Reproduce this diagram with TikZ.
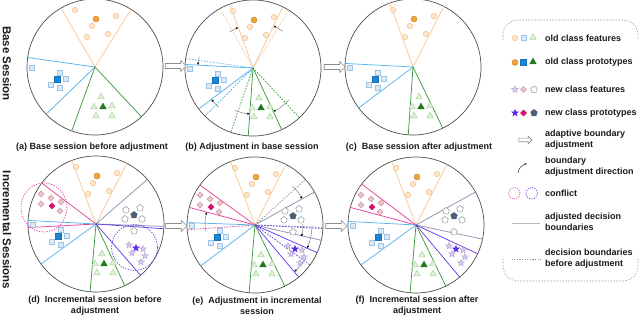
\documentclass[tikz,border=0pt]{standalone}
\usepackage{fontspec}
\setmainfont{Liberation Sans}
\usetikzlibrary{shapes.geometric,shapes.arrows,arrows.meta}
\definecolor{rimc}{HTML}{4D4D4D}
\definecolor{orLine}{HTML}{F7C79B}
\definecolor{orL}{HTML}{FDE6CC}
\definecolor{orB}{HTML}{F3BE85}
\definecolor{orP}{HTML}{F2A23A}
\definecolor{blLine}{HTML}{56B4E9}
\definecolor{blL}{HTML}{DCEAF7}
\definecolor{blB}{HTML}{9DC3E6}
\definecolor{blP}{HTML}{1C86D6}
\definecolor{grLine}{HTML}{3E9B3E}
\definecolor{grL}{HTML}{E0F1D8}
\definecolor{grB}{HTML}{A3D497}
\definecolor{grP}{HTML}{1E7B1E}
\definecolor{pkLine}{HTML}{E6439A}
\definecolor{pkL}{HTML}{E9C6CA}
\definecolor{pkB}{HTML}{D29AA5}
\definecolor{pkP}{HTML}{D6136F}
\definecolor{slLine}{HTML}{8795AD}
\definecolor{slB}{HTML}{8C8C8C}
\definecolor{slP}{HTML}{4E5E75}
\definecolor{vtLine}{HTML}{6A3DE8}
\definecolor{vtL}{HTML}{D9CCEB}
\definecolor{vtB}{HTML}{B7A4D9}
\definecolor{vtP}{HTML}{5B2BE6}
\definecolor{arcc}{HTML}{7F7F7F}
\definecolor{arrc}{HTML}{8C8C8C}
\definecolor{legc}{HTML}{9A9A9A}
\definecolor{txtc}{HTML}{1A1A1A}
\tikzset{
 rim/.style={circle, draw=rimc, line width=0.7pt, minimum size=136pt, inner sep=0pt, outer sep=0pt},
 bnd/.style={line width=0.75pt},
 old/.style={dash pattern=on 1.6pt off 1.4pt},
 oline/.style={bnd, draw=orLine},
 bline/.style={bnd, draw=blLine},
 gline/.style={bnd, draw=grLine},
 pline/.style={bnd, draw=pkLine},
 sline/.style={bnd, draw=slLine},
 vline/.style={bnd, draw=vtLine},
 adjarc/.style={draw=arcc, line width=0.5pt, -{Latex[length=2.4pt,width=2.4pt,color=black]}},
 mk/.style={inner sep=0pt, outer sep=0pt, line width=0.45pt},
 ofeat/.style={mk, circle, draw=orB, fill=orL, minimum size=5.6pt},
 oproto/.style={mk, circle, draw=orP!85!black, fill=orP, minimum size=6pt},
 bfeat/.style={mk, rectangle, draw=blB, fill=blL, minimum size=5.4pt},
 bproto/.style={mk, rectangle, draw=blP!85!black, fill=blP, minimum size=5.8pt},
 gfeat/.style={mk, regular polygon, regular polygon sides=3, draw=grB, fill=grL, minimum size=7.6pt},
 gproto/.style={mk, regular polygon, regular polygon sides=3, draw=grP, fill=grP, minimum size=7.6pt},
 pfeat/.style={mk, diamond, draw=pkB, fill=pkL, minimum size=6pt},
 pproto/.style={mk, diamond, draw=pkP, fill=pkP, minimum size=6pt},
 sfeat/.style={mk, regular polygon, regular polygon sides=5, draw=slB, fill=white, minimum size=7pt},
 sproto/.style={mk, regular polygon, regular polygon sides=5, draw=slP, fill=slP, minimum size=7pt},
 vfeat/.style={mk, star, star points=5, star point ratio=2.3, draw=vtB, fill=vtL, minimum size=7pt},
 vproto/.style={mk, star, star points=5, star point ratio=2.3, draw=vtP, fill=vtP, minimum size=7pt},
 harrow/.style={single arrow, draw=arrc, fill=white, line width=0.6pt, minimum height=21pt, minimum width=10pt, inner sep=2.2pt, single arrow head extend=3pt, single arrow head indent=0pt},
 harrowsmall/.style={harrow, minimum height=13pt, minimum width=7pt, inner sep=1.5pt, single arrow head extend=2pt},
 captxt/.style={font=\fontsize{9}{11}\selectfont\bfseries, text=txtc, align=center, inner sep=0pt},
 legtxt/.style={font=\fontsize{9}{10.7}\selectfont\bfseries, text=txtc, align=left, anchor=west, inner sep=0pt},
 sidetxt/.style={font=\fontsize{11.5}{13}\selectfont\bfseries, text=txtc, rotate=-90, inner sep=0pt},
 legbox/.style={draw=legc, line width=0.6pt, dash pattern=on 1.5pt off 1.5pt, rounded corners=15pt},
}
\newcommand{\bd}[3]{\draw[#1] (#2.center) -- (#2.#3);}
\newcommand{\adj}[3]{\draw[adjarc] (#1:#2) arc[start angle=#1, end angle=#3, radius=#2];}
\newcommand{\OrPts}{%
 \foreach \p [count=\i] in {(-20,57),(21,51),(-3,41),(-8,30),(13,33)} {\node[ofeat] (of\i) at \p {};}
 \node[oproto] (op) at (1,48) {};}
\newcommand{\BlPts}{%
 \foreach \p [count=\i] in {(-63,-1),(-35,-6),(-29,-12),(-44,-18),(-35,-21)} {\node[bfeat] (bf\i) at \p {};}
 \node[bproto] (bp) at (-38,-12) {};}
\newcommand{\GrPts}{%
 \foreach \p [count=\i] in {(6,-30),(-1,-40),(17,-39),(1,-49),(17,-49)} {\node[gfeat] (gf\i) at \p {};}
 \node[gproto] (gp) at (8,-40) {};}
\newcommand{\PkPts}{%
 \foreach \p [count=\i] in {(-55,30),(-45,26),(-55,20),(-35,22),(-36,13)} {\node[pfeat] (pf\i) at \p {};}
 \node[pproto] (pp) at (-44,18) {};}
\newcommand{\SlPts}{%
 \foreach \p [count=\i] in {(30,14),(44,16),(29,5),(46,5),(38,-7)} {\node[sfeat] (sf\i) at \p {};}
 \node[sproto] (sp) at (38,9) {};}
\newcommand{\VtPts}{%
 \foreach \p [count=\i] in {(33,-21),(47,-25),(36,-29),(49,-32),(45,-38)} {\node[vfeat] (vf\i) at \p {};}
 \node[vproto] (vp) at (40,-24) {};}
\begin{document}
\begin{tikzpicture}[x=1pt,y=1pt]
\useasboundingbox (0,0) rectangle (640,-315);
% ---------- (a)
\begin{scope}[shift={(95,-67)}]
 \node[rim] (ca) at (0,0) {};
 \bd{oline}{ca}{120} \bd{oline}{ca}{58}
 \bd{bline}{ca}{172} \bd{bline}{ca}{224}
 \bd{gline}{ca}{250} \bd{gline}{ca}{313}
 \OrPts \BlPts \GrPts
\end{scope}
% ---------- (b)
\begin{scope}[shift={(253,-68)}]
 \node[rim] (cb) at (0,0) {};
 \bd{oline,old}{cb}{119} \bd{oline,old}{cb}{58}
 \bd{bline,old}{cb}{172} \bd{bline,old}{cb}{225}
 \bd{gline,old}{cb}{251} \bd{gline,old}{cb}{313}
 \bd{oline}{cb}{110} \bd{oline}{cb}{64}
 \bd{bline}{cb}{177} \bd{bline}{cb}{217}
 \bd{gline}{cb}{266} \bd{gline}{cb}{295}
 \adj{123}{43}{110} \adj{51}{47}{64}
 \adj{168}{55}{177} \adj{229}{52}{217}
 \adj{247}{46}{266} \adj{318}{48}{295}
 \OrPts \BlPts \GrPts
\end{scope}
% ---------- (c)
\begin{scope}[shift={(413,-67)}]
 \node[rim] (cc) at (0,0) {};
 \bd{oline}{cc}{110} \bd{oline}{cc}{63}
 \bd{bline}{cc}{177} \bd{bline}{cc}{217}
 \bd{gline}{cc}{266} \bd{gline}{cc}{296}
 \OrPts \BlPts \GrPts
\end{scope}
% ---------- (d)
\begin{scope}[shift={(96,-224)}]
 \node[rim] (cd) at (0,0) {};
 \bd{oline}{cd}{111} \bd{oline}{cd}{63}
 \bd{sline}{cd}{41} \bd{sline}{cd}{358.5}
 \bd{pline}{cd}{143} \bd{pline}{cd}{183}
 \bd{bline}{cd}{177} \bd{bline}{cd}{216}
 \bd{gline}{cd}{265} \bd{gline}{cd}{295}
 \bd{vline}{cd}{356.5} \bd{vline}{cd}{311}
 \OrPts \BlPts \GrPts \PkPts \SlPts \VtPts
 \draw[pkLine, line width=0.7pt, dash pattern=on 1.3pt off 1.3pt] (-52,16.5) ellipse [x radius=23, y radius=24.5];
 \draw[vtLine, line width=0.7pt, dash pattern=on 1.3pt off 1.3pt] (38.5,-23.5) circle [radius=23];
\end{scope}
% ---------- (e)
\begin{scope}[shift={(255,-225)}]
 \node[rim] (ce) at (0,0) {};
 \bd{sline,old}{ce}{42} \bd{sline,old}{ce}{358}
 \bd{pline,old}{ce}{184}
 \bd{vline,old}{ce}{357} \bd{vline,old}{ce}{324}
 \bd{oline}{ce}{111} \bd{oline}{ce}{63}
 \bd{sline}{ce}{29} \bd{sline}{ce}{347}
 \bd{pline}{ce}{144} \bd{pline}{ce}{165}
 \bd{bline}{ce}{178} \bd{bline}{ce}{217}
 \bd{gline}{ce}{265} \bd{gline}{ce}{296}
 \bd{vline}{ce}{336} \bd{vline}{ce}{310}
 \adj{187}{50}{165} \adj{46}{54}{29} \adj{1}{48}{-14}
 \adj{-1}{57}{-24} \adj{-33}{61}{-50}
 \OrPts \BlPts \GrPts \PkPts \SlPts \VtPts
\end{scope}
% ---------- (f)
\begin{scope}[shift={(416,-225)}]
 \node[rim] (cf) at (0,0) {};
 \bd{oline}{cf}{111} \bd{oline}{cf}{63}
 \bd{sline}{cf}{29} \bd{sline}{cf}{348}
 \bd{pline}{cf}{143} \bd{pline}{cf}{165}
 \bd{bline}{cf}{177} \bd{bline}{cf}{216}
 \bd{gline}{cf}{265} \bd{gline}{cf}{296}
 \bd{vline}{cf}{335} \bd{vline}{cf}{310}
 \OrPts \BlPts \GrPts \PkPts \SlPts \VtPts
\end{scope}
% ---------- arrows between panels
\node[harrow] (arab) at (174.5,-66) {};
\node[harrow] (arbc) at (333.5,-67) {};
\node[harrow] (arde) at (175,-226) {};
\node[harrow] (aref) at (335,-226) {};
% ---------- captions
\node[captxt] (capa) at (92,-147) {(a) Base session before adjustment};
\node[captxt] (capb) at (252,-147) {(b) Adjustment in base session};
\node[captxt] (capc) at (419,-147) {(c)\ \ Base session after adjustment};
\node[captxt] (capd) at (95,-305.5) {(d)\ \ Incremental session before\\adjustment};
\node[captxt] (cape) at (257,-305.5) {(e)\ \ Adjustment in incremental\\session};
\node[captxt] (capf) at (417,-305.5) {(f)\ \ Incremental session after\\adjustment};
\node[sidetxt] (sbase) at (7,-63.5) {Base Session};
\node[sidetxt] (sinc) at (7,-230) {Incremental Sessions};
% ---------- legend
\draw[legbox] (503,-40) -- (503,-20) -- (638,-20) -- (638,-40);
\draw[legbox] (503,-259) -- (503,-281) -- (638,-281) -- (638,-259);
\node[ofeat] (l1a) at (515,-38) {};
\node[bfeat] (l1b) at (523.5,-38) {};
\node[gfeat] (l1c) at (533,-37.5) {};
\node[legtxt] (t1) at (545,-38) {old class features};
\node[oproto] (l2a) at (515,-62.5) {};
\node[bproto] (l2b) at (523.5,-62.5) {};
\node[gproto] (l2c) at (533,-62) {};
\node[legtxt] (t2) at (545,-62.5) {old class prototypes};
\node[vfeat] (l3a) at (515,-89.5) {};
\node[pfeat] (l3b) at (523.5,-89.5) {};
\node[sfeat] (l3c) at (534,-89.5) {};
\node[legtxt] (t3) at (545,-89.5) {new class features};
\node[vproto] (l4a) at (515,-113) {};
\node[pproto] (l4b) at (523.5,-113) {};
\node[sproto] (l4c) at (534,-113) {};
\node[legtxt] (t4) at (545,-113) {new class prototypes};
\node[harrowsmall] (l5) at (524.5,-140) {};
\node[legtxt] (t5) at (545,-140) {adaptive boundary\\adjustment};
\coordinate (l6s) at (518,-173);
\coordinate (l6e) at (527,-163.5);
\draw[draw=black!75, line width=0.55pt, -{Latex[length=2.4pt,width=2.4pt]}] (l6s) to[out=85,in=200] (l6e);
\node[legtxt] (t6) at (545,-166.5) {boundary\\adjustment direction};
\node[circle, draw=pkLine, line width=0.7pt, dash pattern=on 1.2pt off 1.2pt, minimum size=11.4pt, inner sep=0pt] (l7a) at (514.3,-193.3) {};
\node[circle, draw=vtLine, line width=0.7pt, dash pattern=on 1.2pt off 1.2pt, minimum size=11.4pt, inner sep=0pt] (l7b) at (531.7,-193.3) {};
\node[legtxt] (t7) at (545,-193) {conflict};
\coordinate (l8s) at (511.5,-223.5);
\coordinate (l8e) at (539.5,-223.5);
\draw[draw=black!28, line width=0.8pt] (l8s) -- (l8e);
\node[legtxt] (t8) at (545,-221.5) {adjusted decision\\boundaries};
\coordinate (l9s) at (511.5,-259);
\coordinate (l9e) at (541.5,-259);
\draw[draw=black!45, line width=0.6pt, dash pattern=on 1.3pt off 1.3pt] (l9s) -- (l9e);
\node[legtxt] (t9) at (545,-258.7) {decision boundaries\\before adjustment};
\end{tikzpicture}
\end{document}
